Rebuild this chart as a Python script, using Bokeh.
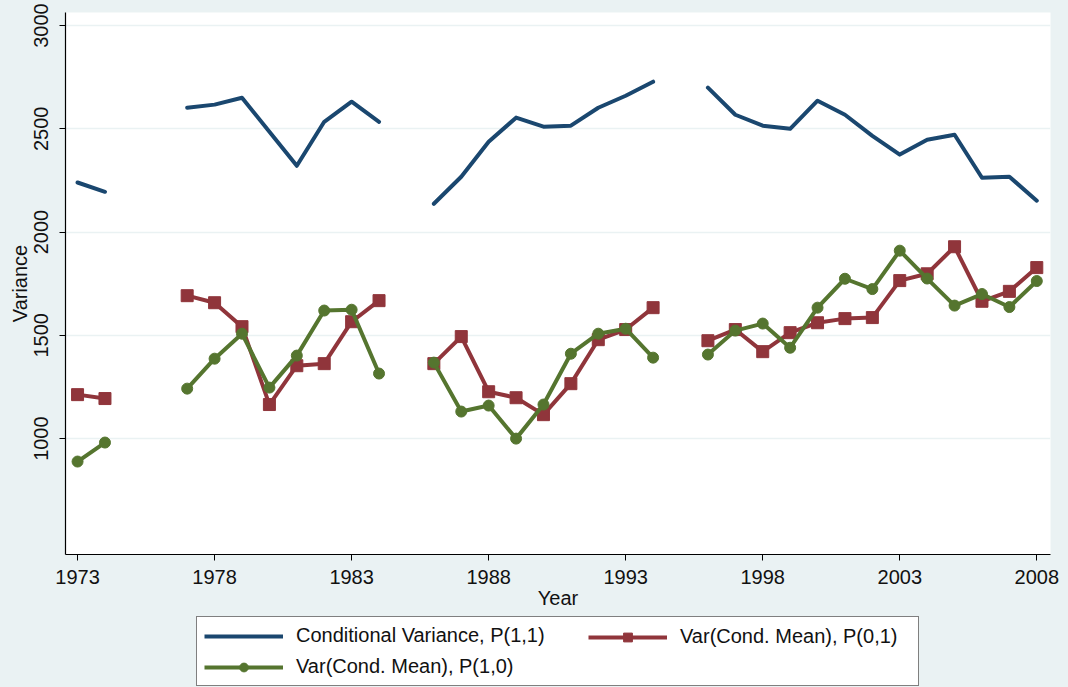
from bokeh.plotting import figure
from bokeh.layouts import column
from bokeh.models import Legend, LegendItem, FixedTicker, Range1d
from bokeh.embed import file_html
from bokeh.resources import INLINE

nan = float("nan")
years = list(range(1973, 2009))
cond_var = [2240, 2195, nan, nan, 2602, 2617, 2650, 2486, 2321, 2534, 2631, 2534, nan,
            2137, 2268, 2437, 2554, 2510, 2515, 2602, 2660, 2728, nan,
            2699, 2568, 2515, 2500, 2636, 2568, 2466, 2375, 2447, 2471, 2263, 2268, 2152]
var_p01 = [1213, 1194, nan, nan, 1692, 1658, 1542, 1165, 1353, 1363, 1566, 1668, nan,
           1363, 1494, 1227, 1198, 1116, 1266, 1479, 1528, 1634, nan,
           1474, 1528, 1421, 1513, 1561, 1581, 1586, 1765, 1798, 1929, 1665, 1713, 1828]
var_p10 = [889, 981, nan, nan, 1242, 1387, 1508, 1247, 1402, 1620, 1624, 1315, nan,
           1368, 1131, 1160, 1000, 1165, 1411, 1508, 1532, 1392, nan,
           1407, 1523, 1557, 1440, 1634, 1774, 1724, 1910, 1775, 1644, 1700, 1637, 1763]
x_ticks = [1973, 1978, 1983, 1988, 1993, 1998, 2003, 2008]
y_ticks = [1000, 1500, 2000, 2500, 3000]
labels = ["Conditional Variance, P(1,1)", "Var(Cond. Mean), P(0,1)", "Var(Cond. Mean), P(1,0)"]

BG = "#EAF2F3"
NAVY = "#1A476F"
MAROON = "#90353B"
GREEN = "#55752F"
FONT = "Liberation Sans"
TXT = "#111111"

# ---------------- main plot ----------------
p = figure(width=1068, height=616, output_backend="svg", toolbar_location=None,
           x_range=Range1d(1972.56, 2008.5), y_range=Range1d(439, 3063),
           min_border_left=65, min_border_right=18, min_border_top=12, min_border_bottom=62)
p.background_fill_color = "white"
p.border_fill_color = BG
p.outline_line_color = None

p.xgrid.visible = False
p.ygrid.grid_line_color = BG
p.ygrid.grid_line_width = 1.5
p.ygrid.ticker = FixedTicker(ticks=y_ticks)

for ax in (p.xaxis[0], p.yaxis[0]):
    ax.axis_line_color = "black"
    ax.axis_line_width = 1.2
    ax.major_tick_line_color = "black"
    ax.major_tick_in = 0
    ax.major_tick_out = 6
    ax.minor_tick_line_color = None
    ax.major_label_text_font = FONT
    ax.major_label_text_font_size = "20px"
    ax.major_label_text_color = TXT
    ax.axis_label_text_font = FONT
    ax.axis_label_text_font_size = "20px"
    ax.axis_label_text_font_style = "normal"
    ax.axis_label_text_color = TXT

p.xaxis.ticker = FixedTicker(ticks=x_ticks)
p.yaxis.ticker = FixedTicker(ticks=y_ticks)
p.xaxis.axis_label = "Year"
p.yaxis.axis_label = "Variance"
p.yaxis.major_label_orientation = "vertical"
p.xaxis.major_label_standoff = 9
p.xaxis.axis_label_standoff = 0
p.yaxis.major_label_standoff = 11
p.yaxis.axis_label_standoff = 1

p.line(years, cond_var, line_color=NAVY, line_width=4, line_cap="round", line_join="round")
p.line(years, var_p01, line_color=MAROON, line_width=4, line_join="round")
p.scatter(years, var_p01, marker="square", size=12, fill_color=MAROON, line_color=MAROON)
p.line(years, var_p10, line_color=GREEN, line_width=4, line_join="round")
p.scatter(years, var_p10, marker="circle", size=11, fill_color=GREEN, line_color=GREEN)

# ---------------- legend strip (series drawn outside its view, only keys show) ----------------
lg = figure(width=1068, height=71, output_backend="svg", toolbar_location=None,
            x_range=Range1d(0, 1), y_range=Range1d(0, 1),
            min_border_left=0, min_border_right=0, min_border_top=0, min_border_bottom=0)
lg.axis.visible = False
lg.grid.visible = False
lg.outline_line_color = None
lg.background_fill_color = BG
lg.border_fill_color = BG

k_cv = lg.line(years, cond_var, line_color=NAVY, line_width=4)
k01_l = lg.line(years, var_p01, line_color=MAROON, line_width=4)
k01_m = lg.scatter(years, var_p01, marker="square", fill_color=MAROON, line_color=MAROON)
k10_l = lg.line(years, var_p10, line_color=GREEN, line_width=4)
k10_m = lg.scatter(years, var_p10, marker="circle", fill_color=GREEN, line_color=GREEN)

PAD = 7
FRAME_LEFT = 65  # legend strip's frame is aligned with the main plot's frame
common = dict(label_text_font=FONT, label_text_font_size="20px", label_text_color=TXT,
              glyph_width=79, glyph_height=22, label_height=23, label_standoff=13,
              spacing=8, padding=PAD, margin=0)

leg1 = Legend(items=[LegendItem(label=labels[0], renderers=[k_cv]),
                     LegendItem(label=labels[2], renderers=[k10_l, k10_m])],
              location=(196 - FRAME_LEFT, 1), label_width=615,
              border_line_color="black", border_line_width=1.2,
              background_fill_color="white", background_fill_alpha=1, **common)
leg2 = Legend(items=[LegendItem(label=labels[1], renderers=[k01_l, k01_m])],
              location=(588 - PAD - FRAME_LEFT, 32), label_width=20,
              border_line_alpha=0, background_fill_alpha=0, **common)
lg.add_layout(leg1, "center")
lg.add_layout(leg2, "center")

page = column(p, lg, spacing=0)

html = file_html(page, INLINE)
html = html.replace("<head>", "<head><style>html,body{background:%s;}</style>" % BG, 1)
open("out.html", "w").write(html)
